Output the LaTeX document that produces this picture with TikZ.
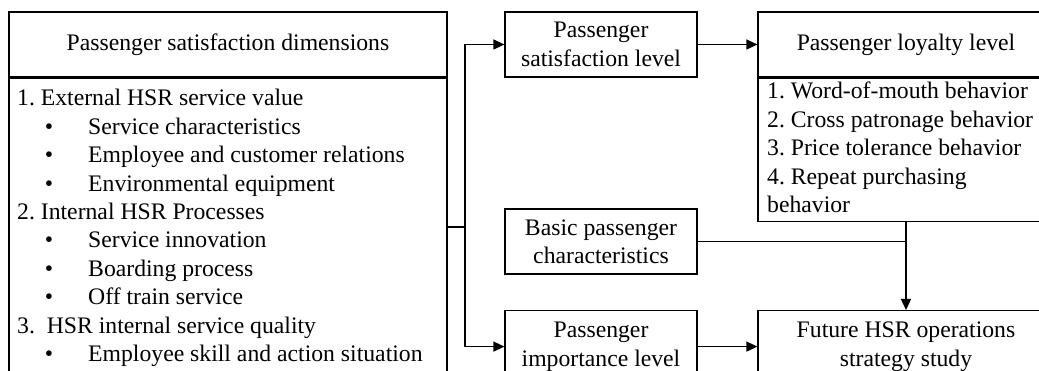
\documentclass[tikz,border=0pt]{standalone}
\usepackage{fontspec}
\setmainfont{Liberation Serif}
\usetikzlibrary{arrows.meta}
\frenchspacing
\newcommand{\myfont}{\fontsize{23.7pt}{28.4pt}\selectfont\frenchspacing}
\tikzset{
  box/.style={draw, line width=1.2pt, inner sep=0pt, align=center, font=\myfont},
  txt/.style={anchor=base west, inner sep=0pt, font=\myfont},
  bul/.style={anchor=base, inner sep=0pt, font=\myfont},
  conn/.style={line width=1.2pt},
  arr/.style={line width=1.2pt, -{Triangle[length=11pt,width=10pt]}}
}
\begin{document}
\begin{tikzpicture}[x=1pt,y=-1pt]
\useasboundingbox (0,0) rectangle (1039,371);
\fill[white] (0,0) rectangle (1039,371);
\clip (0,0) rectangle (1039,371);
% left box
\node[box, minimum width=438pt, minimum height=65pt] (dims) at (228,44.5) {Passenger satisfaction dimensions};
\node[box, minimum width=438pt, minimum height=330pt, anchor=north] (dimsbody) at (dims.south) {};
\node[txt] (l1) at (17,106) {1. External HSR service value};
\node[bul] (b1) at (49,134.4) {•};
\node[txt] (l2) at (88,134.4) {Service characteristics};
\node[bul] (b2) at (49,162.8) {•};
\node[txt] (l3) at (88,162.8) {Employee and customer relations};
\node[bul] (b3) at (49,191.2) {•};
\node[txt] (l4) at (88,191.2) {Environmental equipment};
\node[txt] (l5) at (17,219.6) {2. Internal HSR Processes};
\node[bul] (b5) at (49,248) {•};
\node[txt] (l6) at (88,248) {Service innovation};
\node[bul] (b6) at (49,276.4) {•};
\node[txt] (l7) at (88,276.4) {Boarding process};
\node[bul] (b7) at (49,304.8) {•};
\node[txt] (l8) at (88,304.8) {Off train service};
\node[txt] (l9) at (17,333.2) {3.\ \ HSR internal service quality};
\node[bul] (b9) at (49,361.6) {•};
\node[txt] (l10) at (88,361.6) {Employee skill and action situation};
% middle boxes
\node[box, minimum width=192pt, minimum height=65pt] (sat) at (601,44.5) {Passenger\\satisfaction level};
\node[box, minimum width=192pt, minimum height=65pt] (basic) at (601,241.5) {Basic passenger\\characteristics};
\node[box, minimum width=192pt, minimum height=72pt, anchor=north] (imp) at (601,310) {Passenger\\importance level};
% right boxes
\node[box, minimum width=296pt, minimum height=65pt] (loyal) at (906,44.5) {Passenger loyalty level};
\node[box, minimum width=296pt, minimum height=143pt, anchor=north] (loyalbody) at (loyal.south) {};
\node[txt] (r1) at (767,99) {1. Word-of-mouth behavior};
\node[txt] (r2) at (767,127.5) {2. Cross patronage behavior};
\node[txt] (r3) at (767,156) {3. Price tolerance behavior};
\node[txt] (r4) at (767,184.5) {4. Repeat purchasing};
\node[txt] (r5) at (767,213) {behavior};
\node[box, minimum width=296pt, minimum height=72pt, anchor=north] (fut) at (906,310) {Future HSR operations\\strategy study};
% connectors
\coordinate (j) at (465,227);
\draw[conn] (dimsbody.east |- j) -- (j);
\draw[arr] (j) |- (sat.west);
\draw[arr] (j) |- (imp.west);
\draw[arr] (sat.east) -- (loyal.west);
\draw[conn] (basic.east) -- (basic.east -| fut.north);
\draw[arr] (loyalbody.south -| fut.north) -- (fut.north);
\draw[arr] (imp.east |- fut.west) -- (fut.west);
\end{tikzpicture}
\end{document}
